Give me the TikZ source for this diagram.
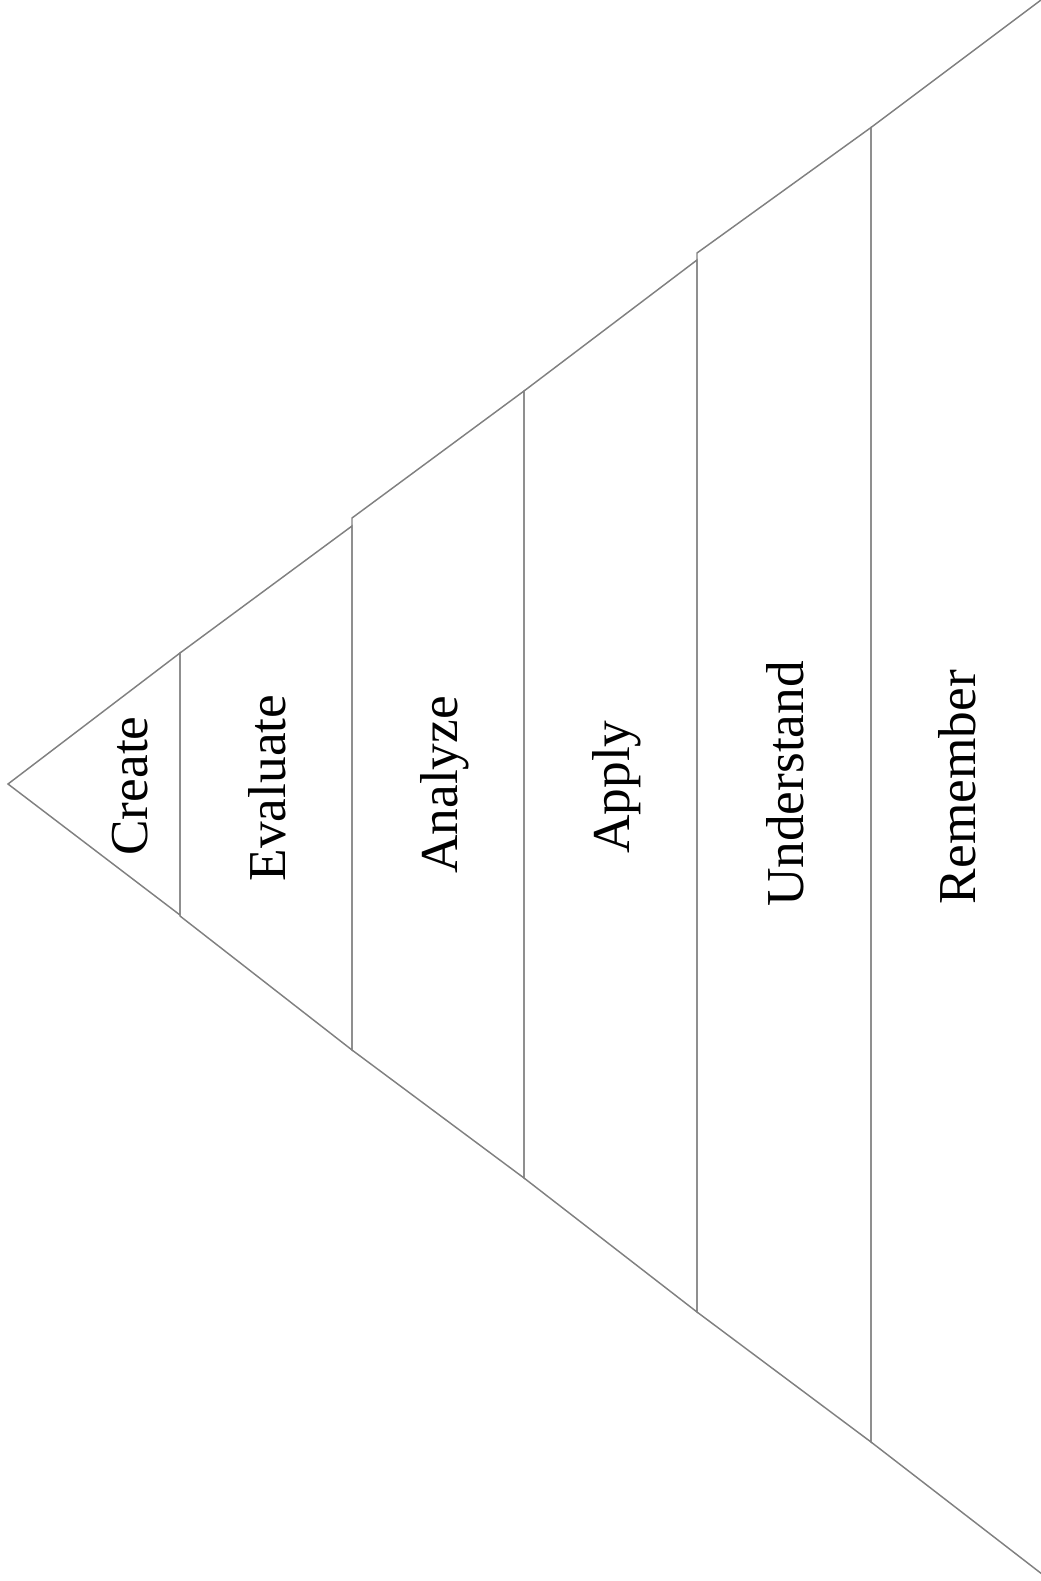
\documentclass[tikz,border=0pt]{standalone}
\usepackage{fontspec}
\setmainfont{Liberation Serif}
\definecolor{edgegray}{RGB}{128,128,128}
\tikzset{
  segment/.style={draw=edgegray, line width=1.1pt, line join=miter},
  label/.style={rotate=90, anchor=base, inner sep=0pt, font=\fontsize{40}{48}\selectfont, text=black}
}
\begin{document}
\begin{tikzpicture}[x=0.75pt,y=-0.75pt]
\useasboundingbox (0,0) rectangle (1041,1581);
\clip (0,0) rectangle (1041,1581);
% segments
\draw[segment] (8,784) -- (180,653) -- (180,915) -- cycle;
\draw[segment] (180,653) -- (352,526) -- (352,1050) -- (180,916) -- cycle;
\draw[segment] (352,518) -- (524,391) -- (524,1178) -- (352,1050) -- cycle;
\draw[segment] (524,391) -- (697,260) -- (697,1312) -- (524,1178) -- cycle;
\draw[segment] (697,253) -- (871,127.5) -- (871,1442) -- (697,1312) -- cycle;
\draw[segment] (1051,-7.5) -- (871,127.5) -- (871,1442) -- (1051,1581);
% labels
\node[label] (create) at (147,786) {Create};
\node[label] (evaluate) at (285,788) {Evaluate};
\node[label] (analyze) at (457,785) {Analyze};
\node[label] (apply) at (629,787) {Apply};
\node[label] (understand) at (803,784) {Understand};
\node[label] (remember) at (975,787) {Remember};
\end{tikzpicture}
\end{document}
